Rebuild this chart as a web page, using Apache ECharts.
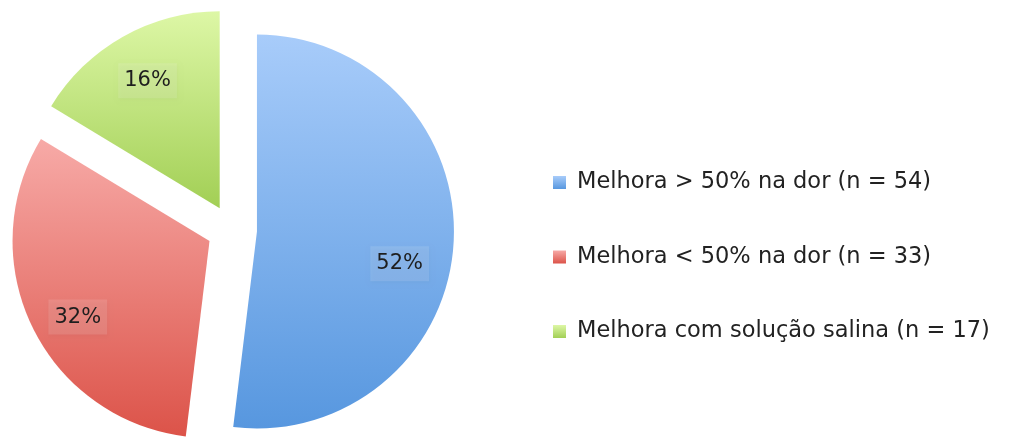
<!DOCTYPE html>
<html>
<head>
<meta charset="utf-8">
<script src="https://cdn.jsdelivr.net/npm/echarts@6/dist/echarts.min.js"></script>
<style>
  html, body { margin: 0; padding: 0; background: #fff; }
  #chart { width: 1009px; height: 438px; }
</style>
</head>
<body>
<div id="chart"></div>
<script>
// categorias e valores (n)
var categories = ['Melhora > 50% na dor (n = 54)', 'Melhora < 50% na dor (n = 33)', 'Melhora com solução salina (n = 17)'];
var counts = [54, 33, 17];

// cores (topo -> base do gradiente)
var topColors = ['#a8ccfa', '#f7aaa7', '#ddf7a6'];
var bottomColors = ['#5797df', '#dc5349', '#a2cf55'];
// ajuste fino dos rótulos
var labelShift = [[-8, 23], [4, 10], [2, 4]];

function grad(i) {
  return new echarts.graphic.LinearGradient(0, 0, 0, 1, [
    { offset: 0, color: topColors[i] },
    { offset: 1, color: bottomColors[i] }
  ]);
}

var chart = echarts.init(document.getElementById('chart'));

var pieData = categories.map(function (c, i) {
  return { name: c, value: counts[i], selected: true, itemStyle: { color: grad(i) } };
});
var labelData = categories.map(function (c, i) {
  return { name: c, value: counts[i], selected: true };
});

var option = {
  animation: false,
  legend: {
    orient: 'vertical',
    left: 553,
    top: 171,
    padding: 0,
    itemWidth: 13,
    itemHeight: 13,
    itemGap: 51.5,
    icon: 'rect',
    selectedMode: false,
    data: categories,
    textStyle: { fontFamily: 'DejaVu Sans', fontSize: 22.5, color: '#222', lineHeight: 23, padding: [0, 0, 0, 6] }
  },
  series: [
    {
      type: 'pie',
      center: [232, 230],
      radius: [0, 197],
      startAngle: 90,
      clockwise: true,
      selectedMode: 'multiple',
      selectedOffset: 25,
      silent: true,
      label: { show: false },
      labelLine: { show: false },
      emphasis: { disabled: true },
      data: pieData
    },
    {
      type: 'pie',
      center: [232, 230],
      radius: [99, 197],
      startAngle: 90,
      clockwise: true,
      selectedMode: 'multiple',
      selectedOffset: 25,
      silent: true,
      percentPrecision: 0,
      itemStyle: { color: 'rgba(0,0,0,0)' },
      emphasis: { disabled: true },
      labelLine: { show: false },
      labelLayout: function (p) {
        return { dx: labelShift[p.dataIndex][0], dy: labelShift[p.dataIndex][1] };
      },
      label: {
        show: true,
        position: 'inside',
        formatter: '{d}%',
        fontFamily: 'DejaVu Sans',
        fontSize: 21,
        color: '#1e1e1e',
        backgroundColor: 'rgba(255,255,255,0.12)',
        padding: [7, 6, 7, 6],
        shadowColor: 'rgba(0,0,0,0.22)',
        shadowBlur: 4,
        shadowOffsetX: 1,
        shadowOffsetY: 2
      },
      data: labelData
    }
  ]
};

chart.setOption(option);
</script>
</body>
</html>
